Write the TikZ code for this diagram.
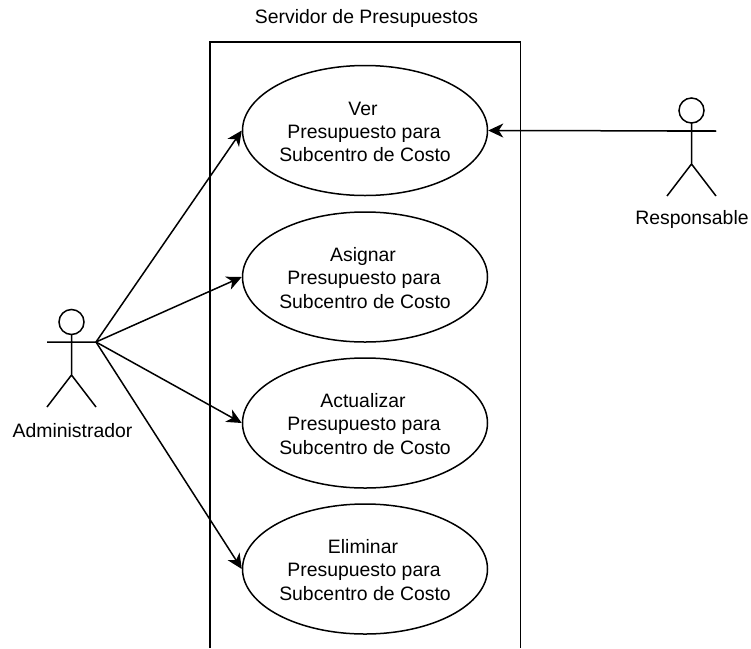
\documentclass[tikz,border=0pt]{standalone}
\usepackage{fontspec}
\setmainfont{Liberation Sans}
\usetikzlibrary{arrows.meta,shapes.geometric}
\newcommand{\firstline}{\rule{0pt}{16pt}}
\newcommand{\gapone}{\kern4pt\relax}
\newcommand{\gaptwo}{\kern2pt\relax}
\tikzset{
  line/.style={line width=1.5pt,black},
  usecase/.style={ellipse,draw,line width=1.5pt,minimum width=245pt,minimum height=130pt,inner sep=0pt,align=center,font=\fontsize{19.4}{23.4}\selectfont,fill=none},
  lbl/.style={inner sep=0pt,font=\fontsize{19.4}{23}\selectfont},
  assoc/.style={line,-{Stealth[length=15pt,width=14pt,inset=4.5pt]}},
}
\begin{document}
\begin{tikzpicture}[x=1pt,y=-1pt]
\useasboundingbox (0,0) rectangle (751,648);
% system boundary
\draw[line] (210,648) -- (210,42) -- (520.5,42) -- (520.5,648);
\node[lbl] (title) at (366.5,18) {Servidor de Presupuestos};
% use cases
\node[usecase] (ver) at (365,130.5) {\firstline Ver\gapone\\Presupuesto para\gaptwo\\Subcentro de Costo};
\node[usecase] (asignar) at (365,277) {\firstline Asignar\gapone\\Presupuesto para\gaptwo\\Subcentro de Costo};
\node[usecase] (actualizar) at (365,423) {\firstline Actualizar\gapone\\Presupuesto para\gaptwo\\Subcentro de Costo};
\node[usecase] (eliminar) at (365,569) {\firstline Eliminar\gapone\\Presupuesto para\gaptwo\\Subcentro de Costo};
% actor: Administrador
\draw[line] (71.5,322) circle (12.5);
\draw[line] (71.5,334.5) -- (71.5,375) (47,342) -- (96,342) (47,407) -- (71.5,375) -- (96,407);
\coordinate (admin) at (96,342);
\node[lbl] (adminl) at (72.5,431) {Administrador};
% actor: Responsable
\draw[line] (691.5,110.5) circle (12.5);
\draw[line] (691.5,123) -- (691.5,164) (667,131) -- (716,131) (667,196) -- (691.5,164) -- (716,196);
\coordinate (resp) at (716,131);
\node[lbl] (respl) at (692,219) {Responsable};
% associations
\draw[assoc] (admin) -- (ver.west);
\draw[assoc] (admin) -- (asignar.west);
\draw[assoc] (admin) -- (actualizar.west);
\draw[assoc] (admin) -- (eliminar.west);
\draw[assoc] (resp) -- (ver.east);
\end{tikzpicture}
\end{document}
